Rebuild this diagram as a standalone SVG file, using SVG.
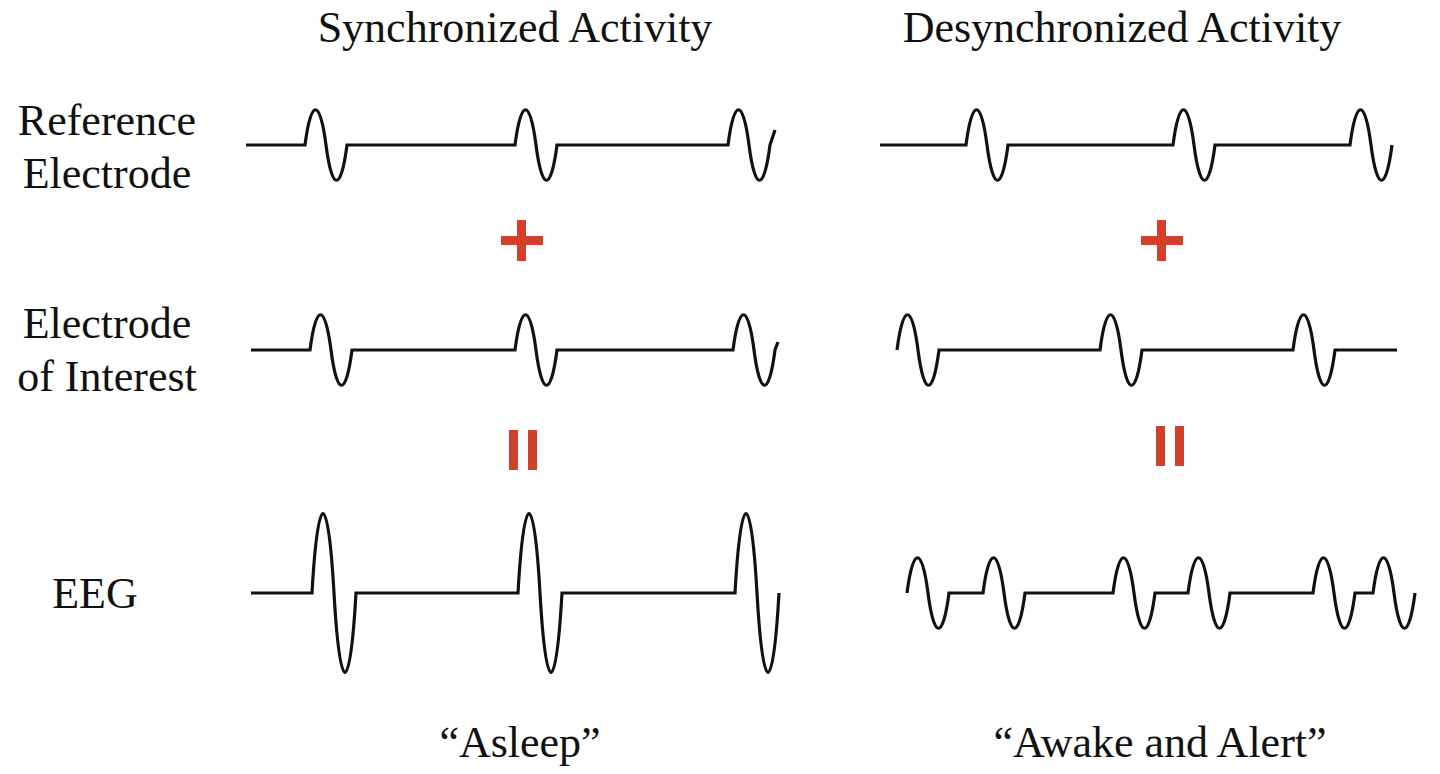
<svg xmlns="http://www.w3.org/2000/svg" width="1440" height="774" viewBox="0 0 1440 774">
<style>
text{font-family:"Liberation Serif",serif;font-size:44px;fill:#111}
.w{fill:none;stroke:#111;stroke-width:3.2}
.r{fill:#d0402c}
</style>
<rect width="1440" height="774" fill="#fff"/>
<g id="titles">
<text x="515" y="42" text-anchor="middle">Synchronized Activity</text>
<text x="1122" y="42" text-anchor="middle">Desynchronized Activity</text>
</g>
<g id="labels" text-anchor="middle">
<text x="107" y="135">Reference</text>
<text x="107" y="188">Electrode</text>
<text x="107" y="338">Electrode</text>
<text x="107" y="391">of Interest</text>
<text x="95" y="608">EEG</text>
<text x="520" y="757">“Asleep”</text>
<text x="1160" y="757">“Awake and Alert”</text>
</g>
<g id="operators">
<rect class="r" x="501" y="236" width="42" height="9"/><rect class="r" x="517" y="220" width="9" height="41"/>
<rect class="r" x="1141" y="236" width="42" height="9"/><rect class="r" x="1157" y="220" width="9" height="41"/>
<rect class="r" x="509" y="430" width="9" height="40"/><rect class="r" x="528" y="430" width="9" height="40"/>
<rect class="r" x="1156" y="426" width="9" height="40"/><rect class="r" x="1175" y="426" width="9" height="40"/>
</g>
<g id="waves">
<path class="w" d="M246 145 H305 c6,-47 15,-47 21,0 c6,47 15,47 21,0 H515 c6,-47 15,-47 21,0 c6,47 15,47 21,0 H728 c6,-47 15,-47 21,0 c6,47 15,47 21,0 l5,-15"/>
<path class="w" d="M880 145 H966 c6,-47 15,-47 21,0 c6,47 15,47 21,0 H1173 c6,-47 15,-47 21,0 c6,47 15,47 21,0 H1350 c6,-47 15,-47 21,0 c6,47 15,47 21,0"/>
<path class="w" d="M251 350 H310 c6,-47 15,-47 21,0 c6,47 15,47 21,0 H515 c6,-47 15,-47 21,0 c6,47 15,47 21,0 H733 c6,-47 15,-47 21,0 c6,47 15,47 21,0 l3,-8"/>
<path class="w" d="M897 350 c6,-47 15,-47 21,0 c6,47 15,47 21,0 H1100 c6,-47 15,-47 21,0 c6,47 15,47 21,0 H1293 c6,-47 15,-47 21,0 c6,47 15,47 21,0 H1397"/>
<path class="w" d="M251 593 H312 c6,-106 16,-106 22,0 c6,106 16,106 22,0 H518 c6,-106 16,-106 22,0 c6,106 16,106 22,0 H735 c6,-106 16,-106 22,0 c6,106 16,106 22,0"/>
<path class="w" d="M907 593 c6,-47 15,-47 21,0 c6,47 15,47 21,0 H983 c6,-47 15,-47 21,0 c6,47 15,47 21,0 H1113 c6,-47 15,-47 21,0 c6,47 15,47 21,0 H1188 c6,-47 15,-47 21,0 c6,47 15,47 21,0 H1313 c6,-47 15,-47 21,0 c6,47 15,47 21,0 H1373 c6,-47 15,-47 21,0 c6,47 15,47 21,0"/>
</g>
</svg>
